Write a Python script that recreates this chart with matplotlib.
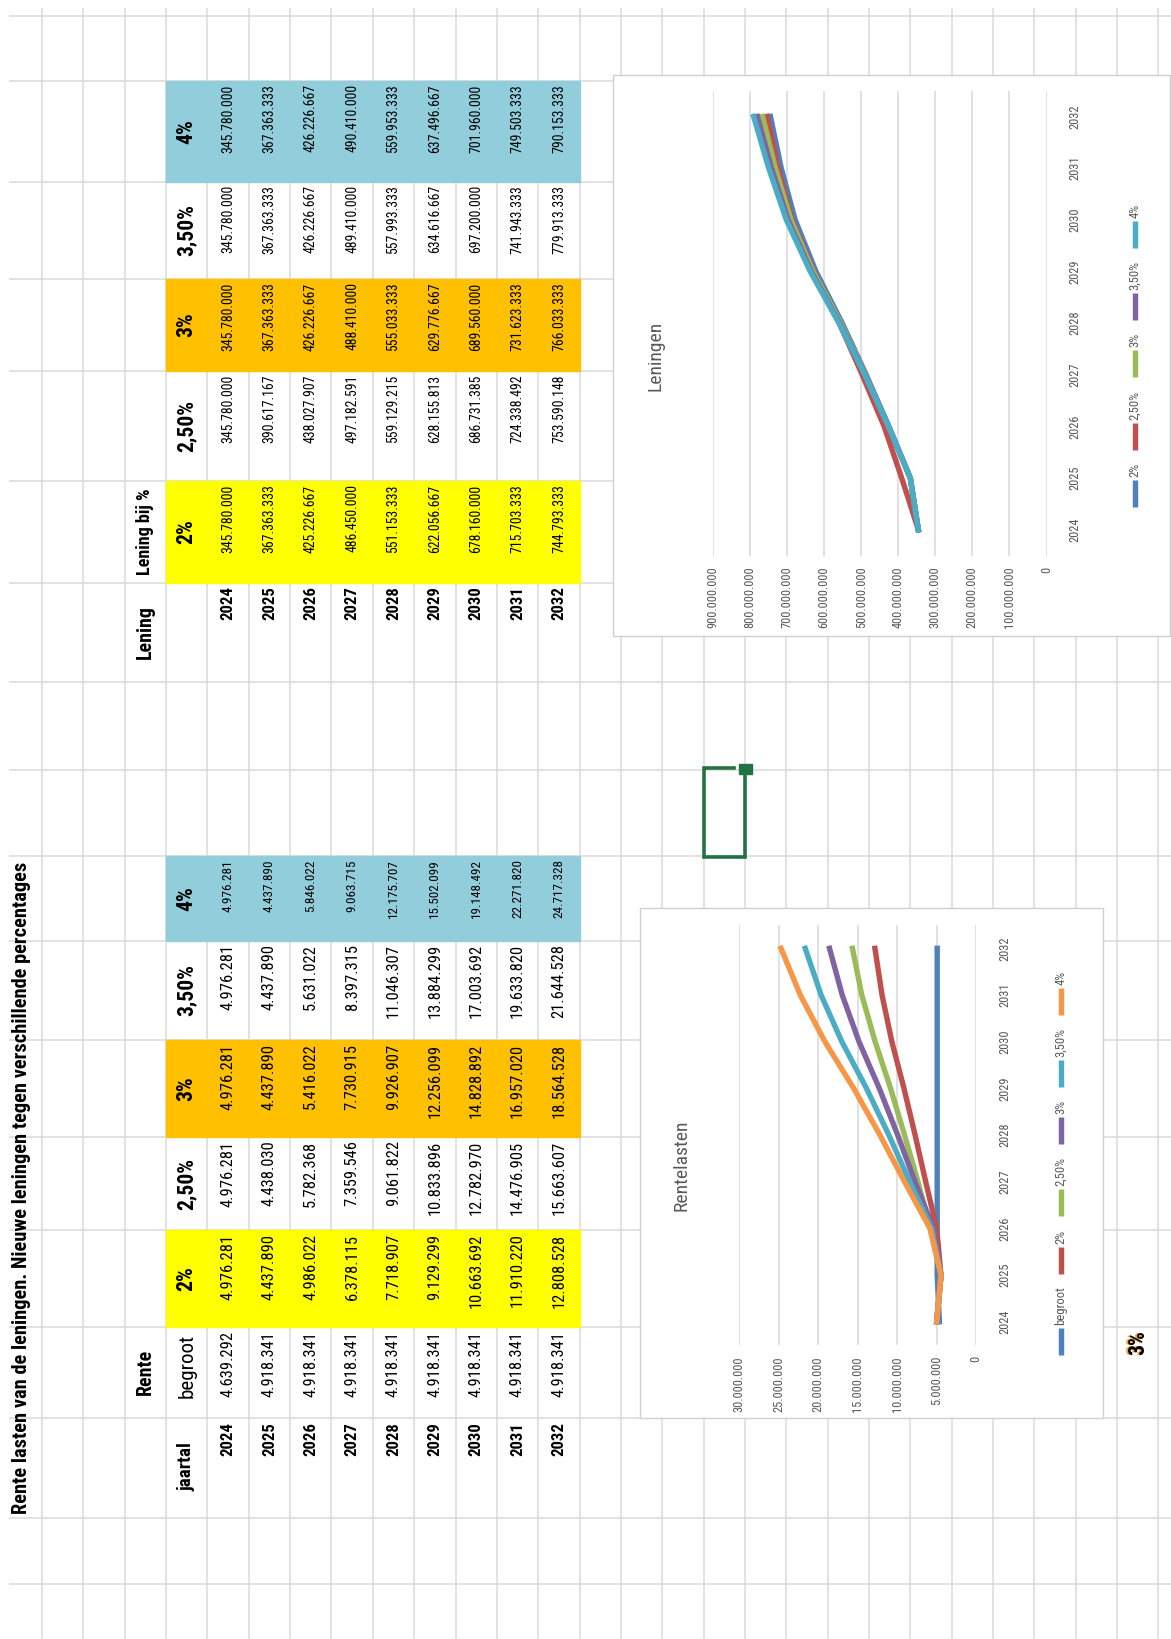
import matplotlib
matplotlib.use('Agg')
import matplotlib.pyplot as plt
from matplotlib import font_manager
from matplotlib.patches import Rectangle
from matplotlib.ticker import FuncFormatter

# ---- gegevens uit het werkblad ----
jaren = [2024, 2025, 2026, 2027, 2028, 2029, 2030, 2031, 2032]
percentages = ['2%', '2,50%', '3%', '3,50%', '4%']

lening_2 = [345780000, 367363333, 425226667, 486450000, 551153333, 622056667, 678160000, 715703333, 744793333]
lening_25 = [345780000, 390617167, 438027907, 497182591, 559129215, 628155813, 686731385, 724338492, 753590148]
lening_3 = [345780000, 367363333, 426226667, 488410000, 555033333, 629776667, 689560000, 731623333, 766033333]
lening_35 = [345780000, 367363333, 426226667, 489410000, 557993333, 634616667, 697200000, 741943333, 779913333]
lening_4 = [345780000, 367363333, 426226667, 490410000, 559953333, 637496667, 701960000, 749503333, 790153333]

rente_begroot = [4639292, 4918341, 4918341, 4918341, 4918341, 4918341, 4918341, 4918341, 4918341]
rente_2 = [4976281, 4437890, 4986022, 6378115, 7718907, 9129299, 10663692, 11910220, 12808528]
rente_25 = [4976281, 4438030, 5782368, 7359546, 9061822, 10833896, 12782970, 14476905, 15663607]
rente_3 = [4976281, 4437890, 5416022, 7730915, 9926907, 12256099, 14828892, 16957020, 18564528]
rente_35 = [4976281, 4437890, 5631022, 8397315, 11046307, 13884299, 17003692, 19633820, 21644528]
rente_4 = [4976281, 4437890, 5846022, 9063715, 12175707, 15502099, 19148492, 22271820, 24717328]

titel = 'Rente lasten van de leningen. Nieuwe leningen tegen verschillende percentages'

# ---- opmaak ----
W, H = 1171, 1639
GRID = '#DADADA'
GRIJS = '#595959'
kleuren = ['#4F81BD', '#C0504D', '#9BBB59', '#8064A2', '#4BACC6', '#F79646']

beschikbaar = {f.name for f in font_manager.fontManager.ttflist}
FONT = next((f for f in ['Liberation Sans Narrow', 'DejaVu Sans Condensed', 'Roboto Condensed',
                         'Liberation Sans', 'DejaVu Sans'] if f in beschikbaar), 'DejaVu Sans')

fig = plt.figure(figsize=(W / 100, H / 100), dpi=100)
ax0 = fig.add_axes([0, 0, 1, 1])
ax0.set_xlim(0, W)
ax0.set_ylim(H, 0)
ax0.axis('off')
renderer = fig.canvas.get_renderer()


def punt(v):
    return f'{int(round(v)):,}'.replace(',', '.')


def breedte(s, size, weight='normal'):
    t = ax0.text(0, 0, s, fontsize=size, family=FONT, weight=weight)
    b = t.get_window_extent(renderer).width
    t.remove()
    return b


def maat(s, lengte, weight='normal'):
    # lettergrootte zodat de tekst ongeveer 'lengte' pixels lang wordt
    return 10 * lengte / breedte(s, 10, weight)


def tekst(x, y, s, size, weight='normal', va='center', color='black', z=4):
    return ax0.text(x, y, s, rotation=90, ha='center', va=va, fontsize=size,
                    family=FONT, weight=weight, color=color, zorder=z)


# rasterlijnen van het werkblad (gedraaid)
kol = [42 + 41.35 * i for i in range(28)]
rijen = [15.8, 80.8, 181.6, 279, 371, 481, 582.5, 682, 770, 856, 940.6,
         1040, 1137, 1230, 1327, 1418, 1518, 1584]
ax0.vlines(kol, 8, H, color=GRID, lw=1.1, zorder=1)
ax0.hlines(rijen, 9, W, color=GRID, lw=1.1, zorder=1)


def midden(i):
    return (kol[i] + kol[i + 1]) / 2


s_val = maat('345.780.000', 68)
s_val2 = maat('4.976.281', 65)
s_kop = maat('3,50%', 52, 'bold')
s_jaar = maat('2024', 34, 'bold')
s_lab = maat('Lening bij %', 87, 'bold')
vul = ['#FFFF00', None, '#FFC000', None, '#92CDDC']

# ---- tabel leningen ----
banden = [(481, 582.5), (371, 481), (279, 371), (181.6, 279), (80.8, 181.6)]
for (y0, y1), kleur, kop, reeks in zip(banden, vul, percentages,
                                       [lening_2, lening_25, lening_3, lening_35, lening_4]):
    if kleur:
        ax0.add_patch(Rectangle((kol[3], y0), kol[13] - kol[3], y1 - y0, color=kleur, zorder=2))
    tekst(midden(3), (y0 + y1) / 2, kop, s_kop, 'bold')
    for i, v in enumerate(reeks):
        tekst(midden(4 + i), y0 + 3.5, punt(v), s_val, va='top')
tekst(midden(2), (481 + 582.5) / 2, 'Lening bij %', s_lab, 'bold')
tekst(midden(2), (582.5 + 682) / 2, 'Lening', s_lab * 1.1, 'bold')
for i, j in enumerate(jaren):
    tekst(midden(4 + i), 586, str(j), s_jaar, 'bold', va='top')

# ---- tabel rente ----
banden = [(1230, 1327), (1137, 1230), (1040, 1137), (940.6, 1040), (856, 940.6)]
for (y0, y1), kleur, kop, reeks in zip(banden, vul, percentages,
                                       [rente_2, rente_25, rente_3, rente_35, rente_4]):
    if kleur:
        ax0.add_patch(Rectangle((kol[3], y0), kol[13] - kol[3], y1 - y0, color=kleur, zorder=2))
    tekst(midden(3), (y0 + y1) / 2, kop, s_kop, 'bold')
    sv = s_val2 if y1 - y0 > 90 else s_val2 * 52 / 65
    for i, v in enumerate(reeks):
        tekst(midden(4 + i), y0 + 3.5, punt(v), sv, va='top')
tekst(midden(2), 1372, 'Rente', s_lab * 1.1, 'bold')
tekst(midden(3), 1366, 'begroot', maat('begroot', 64))
for i, v in enumerate(rente_begroot):
    tekst(midden(4 + i), 1331, punt(v), s_val2, va='top')
tekst(midden(3), 1467, 'jaartal', s_lab * 1.05, 'bold')
for i, j in enumerate(jaren):
    tekst(midden(4 + i), 1422, str(j), s_jaar, 'bold', va='top')

tekst(22, 1514, titel, maat(titel, 650, 'bold'), 'bold', va='bottom')

# geselecteerde cel
groen = '#217346'
ax0.plot([734, kol[16], kol[16], kol[17], kol[17]], [768, 768, 857, 857, 776],
         color=groen, lw=2.6, solid_joinstyle='miter', zorder=3)
ax0.add_patch(Rectangle((739, 764), 13, 10, color=groen, zorder=3))

# losse '3%' onderaan
s3 = maat('3%', 25, 'bold')
ax0.text(midden(26) - 1.5, 1330, '3%', rotation=90, ha='center', va='top', fontsize=s3,
         family=FONT, weight='bold', color='#F4A340', zorder=4)
tekst(midden(26), 1330, '3%', s3, 'bold', va='top')

# ---- grafieken ----
s_tick = maat('900.000.000', 61)
s_leg = maat('2,50%', 29)
s_titel = maat('Rentelasten', 90)
LW = 3.9


def legenda(namen, kleur, x, y_mid):
    lijn, gat, tussen = 27, 3, 13
    br = [breedte(n, s_leg) for n in namen]
    totaal = sum(lijn + gat + b for b in br) + tussen * (len(namen) - 1)
    y = y_mid + totaal / 2
    for n, k, b in zip(namen, kleur, br):
        ax0.plot([x, x], [y, y - lijn], color=k, lw=LW, solid_capstyle='butt', zorder=5)
        y -= lijn + gat
        tekst(x, y, n, s_leg, va='bottom', color=GRIJS, z=5)
        y -= b + tussen


def grafiek(kader, vlak, reeksen, namen, kleur, vmax, stap, kop, kop_pos, leg_x):
    kx0, ky0, kx1, ky1 = kader
    ax0.add_patch(Rectangle((kx0, ky0), kx1 - kx0, ky1 - ky0, facecolor='white',
                            edgecolor='#D0D0D0', lw=1, zorder=3))
    px0, py0, px1, py1 = vlak
    ax = fig.add_axes([px0 / W, 1 - py1 / H, (px1 - px0) / W, (py1 - py0) / H])
    ax.set_xlim(vmax, 0)
    ax.set_ylim(-0.5, len(jaren) - 0.5)
    ax.set_xticks(range(0, vmax + 1, stap))
    ax.xaxis.set_major_formatter(FuncFormatter(lambda v, p: punt(v)))
    ax.set_yticks(range(len(jaren)))
    ax.set_yticklabels([str(j) for j in jaren])
    ax.yaxis.tick_right()
    ax.tick_params(length=0, colors=GRIJS, labelsize=s_tick)
    ax.tick_params(axis='x', labelrotation=90, pad=8)
    ax.tick_params(axis='y', labelrotation=90, pad=16)
    for lab in ax.get_xticklabels() + ax.get_yticklabels():
        lab.set_family(FONT)
    for lab in ax.get_yticklabels():
        lab.set_va('center')
    ax.grid(axis='x', color='#D9D9D9', lw=1.1)
    ax.set_axisbelow(True)
    for s in ax.spines.values():
        s.set_visible(False)
    ax.patch.set_alpha(0)
    for reeks, k in zip(reeksen, kleur):
        ax.plot(reeks, range(len(jaren)), color=k, lw=LW, solid_joinstyle='round')
    tekst(kop_pos[0], kop_pos[1], kop, s_titel, color=GRIJS, z=5)
    legenda(namen, kleur, leg_x, (ky0 + ky1) / 2)


grafiek((613, 74.5, 1170, 636), (712.9, 90.6, 1046.5, 555.6),
        [lening_2, lening_25, lening_3, lening_35, lening_4], percentages, kleuren[:5],
        900000000, 100000000, 'Leningen', (655.5, 355.5), 1135)

grafiek((639.5, 908, 1102.5, 1418), (739.3, 925, 976, 1345),
        [rente_begroot, rente_2, rente_25, rente_3, rente_35, rente_4],
        ['begroot'] + percentages, kleuren, 30000000, 5000000, 'Rentelasten', (682, 1165), 1061)

fig.savefig('out.png', dpi=100)
